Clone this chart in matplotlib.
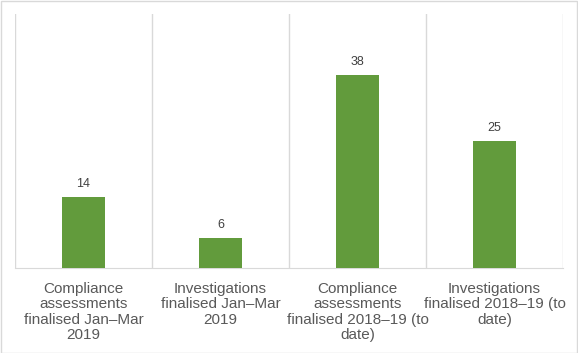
import numpy as np
import matplotlib.pyplot as plt
from matplotlib.patches import Rectangle
plt.switch_backend('Agg')

categories = ['Compliance\nassessments\nfinalised Jan\u2013Mar\n2019',
              'Investigations\nfinalised Jan\u2013Mar\n2019',
              'Compliance\nassessments\nfinalised 2018\u201319 (to\ndate)',
              'Investigations\nfinalised 2018\u201319 (to\ndate)']
values = [14, 6, 38, 25]

plt.rcParams['font.family'] = ['Liberation Sans', 'DejaVu Sans']

fig = plt.figure(figsize=(5.78, 3.53), dpi=100)
ax = fig.add_axes([15 / 578, 85 / 353, 548 / 578, 254 / 353])

x = np.arange(len(values))
bars = ax.bar(x, values, width=0.31, color='#629B3C', zorder=3)
for xi, v in zip(x, values):
    ax.text(xi, v + 1.3, str(v), ha='center', va='bottom', fontsize=9, color='#404040')

ax.set_xlim(-0.5, len(values) - 0.5)
ax.set_ylim(0, 50)
for b in np.arange(-0.5, len(values), 1.0):
    ax.axvline(b, color='#d9d9d9', lw=1, zorder=1)

ax.set_yticks([])
ax.set_xticks(x)
ax.set_xticklabels(categories, fontsize=11, color='#595959', linespacing=1.12)
ax.tick_params(axis='x', length=0, pad=10)
for s in ['top', 'left', 'right']:
    ax.spines[s].set_visible(False)
ax.spines['bottom'].set_color('#d9d9d9')

fig.patches.append(Rectangle((0.5 / 578, 0.5 / 353), 1 - 1.5 / 578, 1 - 1.5 / 353,
                             transform=fig.transFigure, fill=False,
                             edgecolor='#d9d9d9', lw=1))

fig.savefig('out.png', dpi=100)
